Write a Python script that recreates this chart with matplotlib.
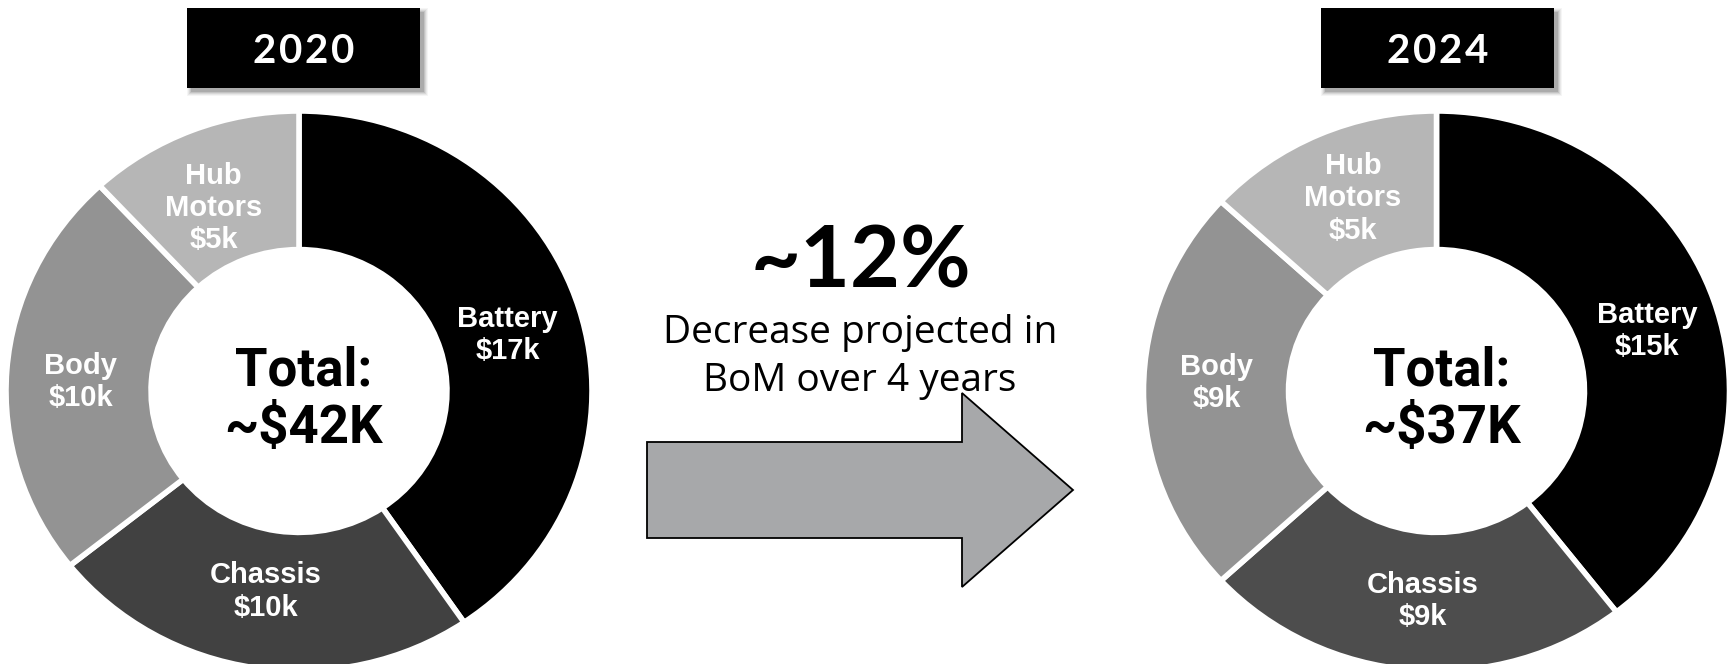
import matplotlib
matplotlib.use("Agg")
import matplotlib.pyplot as plt
from matplotlib.patches import Polygon, Rectangle

# ---------------- data ----------------
categories = ["Battery", "Chassis", "Body", "Hub\nMotors"]
years = ["2020", "2024"]
values_2020 = [17, 10, 10, 5]
values_2024 = [15, 9, 9, 5]
totals = ["~$42K", "~$37K"]
change_pct = "~12%"
change_text = ["Decrease projected in", "BoM over 4 years"]

colors_2020 = ["#000000", "#414141", "#939393", "#b6b6b6"]
colors_2024 = ["#000000", "#4d4d4d", "#939393", "#b6b6b6"]

# ---------------- layout (pixels) ----------------
W, H, DPI = 1733, 664, 100
RX, RY = 293, 280
centers = [(299, 391), (1436.5, 391)]
box_centers = [303.5, 1437.5]
box_w, box_h, box_top = 233, 80, 8
digit_pitch = 26
# small manual nudges of the wedge labels (pixels, x right / y down)
label_nudges = [
    [(-4, 7), (0, -10), (4, 7), (-4, 15)],
    [(0, 9), (5, -2), (3, -8), (6, 2)],
]

fig = plt.figure(figsize=(W / DPI, H / DPI), dpi=DPI)
fig.patch.set_facecolor("white")

LABEL_FONT = ["Liberation Sans", "DejaVu Sans"]
MAIN_FONT = ["Lato", "DejaVu Sans"]
TOTAL_FONT = ["Roboto", "DejaVu Sans"]
SUB_FONT = ["Open Sans", "DejaVu Sans"]


def donut(cx, cy, values, colors, nudges):
    ax = fig.add_axes([(cx - RX) / W, (H - (cy + RY)) / H, 2 * RX / W, 2 * RY / H])
    labels = [f"{c}\n${v}k" for c, v in zip(categories, values)]
    wedges, texts = ax.pie(
        values, colors=colors, startangle=90, counterclock=False,
        labels=labels, labeldistance=0.76,
        wedgeprops=dict(width=0.495, edgecolor="white", linewidth=4),
        textprops=dict(color="white", fontsize=21, fontweight="bold",
                       family=LABEL_FONT),
    )
    for t, (dx, dy) in zip(texts, nudges):
        t.set_ha("center")
        t.set_va("center")
        t.set_linespacing(1.2)
        x, y = t.get_position()
        t.set_position((x + dx / RX, y - dy / RY))
    ax.set_aspect("auto")
    ax.set_xlim(-1, 1)
    ax.set_ylim(-1, 1)
    ax.axis("off")
    return ax


donut(*centers[0], values_2020, colors_2020, label_nudges[0])
donut(*centers[1], values_2024, colors_2024, label_nudges[1])

ov = fig.add_axes([0, 0, 1, 1], zorder=5)
ov.set_xlim(0, W)
ov.set_ylim(H, 0)
ov.axis("off")
ov.patch.set_alpha(0)

# year boxes with soft shadow
for (cx, cy), bx, yr, tot in zip(centers, box_centers, years, totals):
    x0 = bx - box_w / 2
    for grow, a in [(8, 0.04), (6, 0.05), (4, 0.07), (2, 0.09), (0, 0.12)]:
        ov.add_patch(Rectangle((x0 + 4 - grow / 2, box_top + 4 - grow / 2),
                               box_w + grow, box_h + grow, color="#000000",
                               alpha=a, lw=0, zorder=1))
    ov.add_patch(Rectangle((x0, box_top), box_w, box_h, color="black", lw=0, zorder=2))
    n = len(yr)
    for i, ch in enumerate(yr):
        ov.text(bx + (i - (n - 1) / 2) * digit_pitch, 63, ch, color="white",
                fontsize=29, fontweight="bold", family=MAIN_FONT,
                ha="center", va="baseline", zorder=3)
    ov.text(cx + 5, 385, "Total:", color="black", fontsize=38, fontweight="bold",
            family=TOTAL_FONT, ha="center", va="baseline")
    ov.text(cx + 5, 443, tot, color="black", fontsize=38, fontweight="bold",
            family=TOTAL_FONT, ha="center", va="baseline")

# central arrow
arrow_pts = [(647, 442), (962, 442), (962, 393), (1073, 490),
             (962, 587), (962, 538), (647, 538)]
ov.add_patch(Polygon(arrow_pts, closed=True, facecolor="#a7a8aa",
                     edgecolor="black", lw=1.3, zorder=1))

ov.text(861, 287, change_pct, color="black", fontsize=62, fontweight="bold",
        family=MAIN_FONT, ha="center", va="baseline", zorder=4)
ov.text(860, 343, change_text[0], color="black", fontsize=28,
        family=SUB_FONT, ha="center", va="baseline", zorder=4)
ov.text(860, 391, change_text[1], color="black", fontsize=28,
        family=SUB_FONT, ha="center", va="baseline", zorder=4)

fig.savefig("out.png", dpi=DPI, facecolor="white")
